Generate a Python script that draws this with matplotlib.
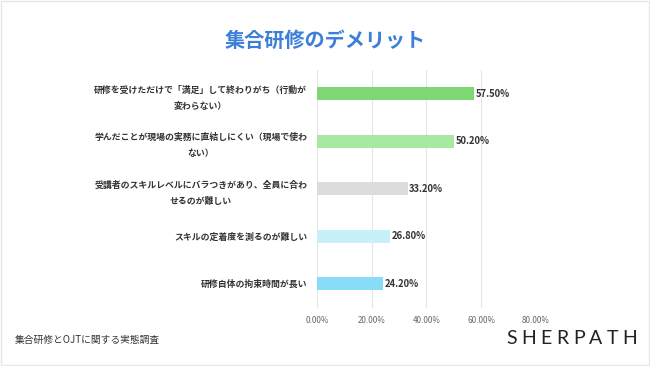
import matplotlib.pyplot as plt
from matplotlib.patches import Rectangle

plt.rcParams['font.family'] = ['Noto Sans CJK JP', 'DejaVu Sans']

# データ
項目 = [
    '研修を受けただけで「満足」して終わりがち（行動が\n変わらない）',
    '学んだことが現場の実務に直結しにくい（現場で使わ\nない）',
    '受講者のスキルレベルにバラつきがあり、全員に合わ\nせるのが難しい',
    'スキルの定着度を測るのが難しい',
    '研修自体の拘束時間が長い',
]
割合 = [57.5, 50.2, 33.2, 26.8, 24.2]
色 = ['#7ed772', '#a9e8a0', '#dcdcdc', '#c8f0fb', '#88dcf7']
目盛り = [0, 20, 40, 60, 80]

fig = plt.figure(figsize=(6.5, 3.66), dpi=100)
ax = fig.add_axes([0.4877, 0.1598, 0.3369, 0.649])

y = list(range(len(項目)))
ax.barh(y, 割合, height=0.28, color=色, zorder=2)
for yi, v in zip(y, 割合):
    ax.text(v + 0.5, yi, f'{v:.2f}%', va='center', ha='left',
            fontsize=6.8, fontweight='bold', color='#333333')

ax.set_xlim(0, 80)
ax.set_ylim(len(項目) - 0.5, -0.5)
ax.set_xticks(目盛り)
ax.set_xticklabels([f'{t:.2f}%' for t in 目盛り], fontsize=5.8, color='#666666')
ax.set_yticks(y)
ax.set_yticklabels(項目, fontsize=6.4, fontweight='bold', color='#333333',
                   multialignment='center', linespacing=2.0)
ax.tick_params(length=0, pad=7)
ax.tick_params(axis='x', pad=6)
ax.grid(axis='x', color='#e6e6e6', linewidth=0.8, zorder=0)
for s in ax.spines.values():
    s.set_visible(False)

fig.text(0.5, 0.89, '集合研修のデメリット', ha='center', va='center',
         fontsize=14.5, fontweight='bold', color='#3b7fd9')
fig.text(0.023, 0.072, '集合研修とOJTに関する実態調査', ha='left', va='center',
         fontsize=7.0, color='#333333')

# ロゴ
for i, c in enumerate('SHERPATH'):
    fig.text((512 + i * 16.8) / 650, 0.075, c, ha='center', va='center',
             fontsize=14, family='Lato', color='#222222')

fig.patches.append(Rectangle((0.002, 0.003), 0.996, 0.994, transform=fig.transFigure,
                             fill=False, edgecolor='#e6e6e6', linewidth=1))

fig.savefig('out.png', dpi=100)
